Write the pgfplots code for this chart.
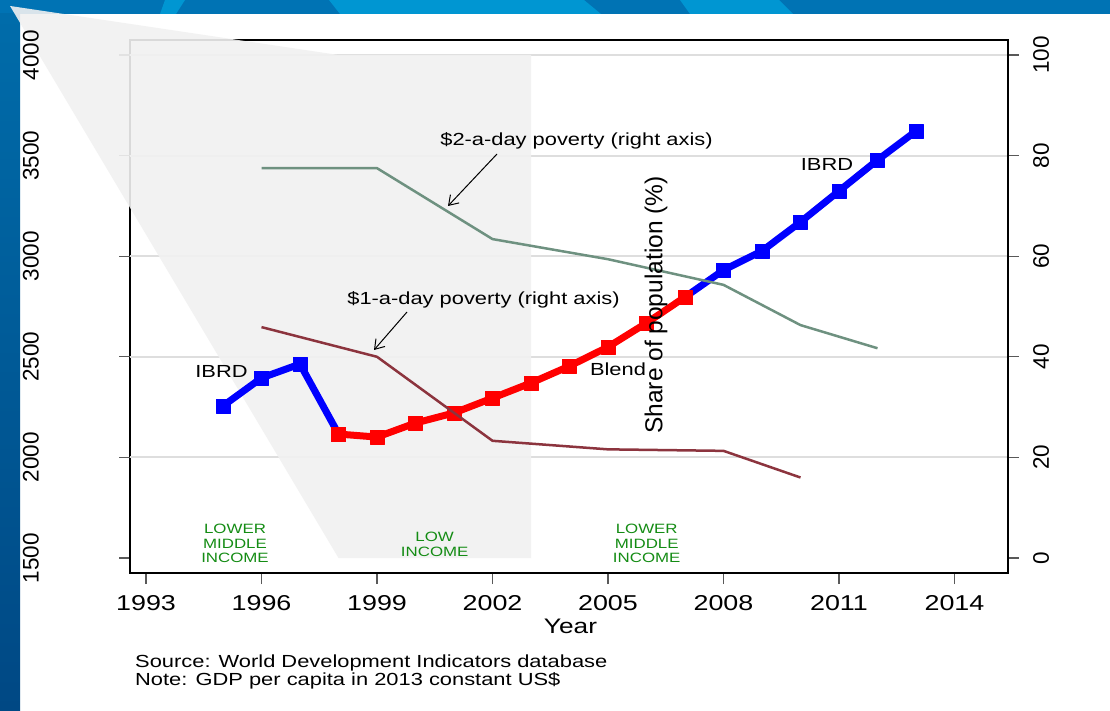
\documentclass[border=0pt]{standalone}
\usepackage{pgfplots}
\pgfplotsset{compat=1.18}
\usepackage{pgfplotstable}
\usetikzlibrary{arrows.meta}
\usepackage{fontspec}
\setmainfont{Liberation Sans}[FakeStretch=1.25]
\newfontfamily\rotfont{Liberation Sans}
\definecolor{stripdark}{RGB}{0,115,180}
\definecolor{striplight}{RGB}{0,150,210}
\definecolor{leftTop}{RGB}{0,108,170}
\definecolor{leftBot}{RGB}{0,72,132}
\definecolor{zoomgray}{RGB}{241,241,241}
\definecolor{gridgray}{RGB}{222,222,222}
\definecolor{ibrdblue}{RGB}{0,0,255}
\definecolor{blendred}{RGB}{255,0,0}
\definecolor{povtwo}{RGB}{110,145,128}
\definecolor{povone}{RGB}{140,52,62}
\definecolor{incgreen}{RGB}{20,140,20}

\pgfplotstableread{
year gdp
1995 2256
1996 2395
1997 2464
1998 2116
}\ibrdA
\pgfplotstableread{
year gdp
1998 2116
1999 2101
2000 2171
2001 2221
2002 2295
2003 2370
2004 2454
2005 2549
2006 2668
2007 2797
}\blend
\pgfplotstableread{
year gdp
2007 2797
2008 2931
2009 3026
2010 3170
2011 3324
2012 3478
2013 3622
}\ibrdB
\pgfplotstableread{
year share
1996 77.5
1999 77.5
2002 63.4
2005 59.4
2008 54.3
2010 46.3
2012 41.7
}\povTwo
\pgfplotstableread{
year share
1996 45.9
1999 40.0
2002 23.3
2005 21.6
2008 21.3
2010 16.0
}\povOne

\pgfplotsset{
  common/.style={
    at={(130pt,137pt)}, anchor=south west, scale only axis,
    width=878pt, height=533pt,
    xmin=1992.584, xmax=2015.39,
    tick align=outside, major tick length=11pt,
    /pgf/number format/1000 sep={},
    /pgf/number format/assume math mode=true,
  }
}

\begin{document}
\begin{tikzpicture}[x=1pt,y=1pt]
\useasboundingbox (0,0) rectangle (1110,710);
\fill[white] (0,0) rectangle (1110,710);
\fill[stripdark] (0,696) rectangle (1110,710);
\fill[striplight] (329,710) -- (584,710) -- (601,696) -- (340,696) -- cycle;
\fill[striplight] (680,710) -- (779,710) -- (793,696) -- (690,696) -- cycle;
\fill[striplight] (165,710) -- (185,710) -- (176,696) -- (160,696) -- cycle;
\shade[bottom color=leftBot, top color=leftTop] (0,0) rectangle (20,696);

% main axis: GDP per capita (left scale)
\begin{axis}[
  common,
  ymin=1425.45, ymax=4074.55,
  clip=false,
  xtick={1993,1996,...,2014},
  ytick={1500,2000,...,4000},
  yticklabels={},
  extra y ticks={2000,2500,3000,3500,4000},
  extra y tick labels={},
  extra y tick style={grid=major},
  grid style={gridgray, line width=2pt},
  xtick pos=bottom, ytick pos=left,
  tick style={black!65, line width=1.3pt},
  axis line style={line width=1.3pt},
  xticklabel style={font=\fontsize{21.5}{24}\selectfont, anchor=north, inner sep=0pt},
  xticklabel shift=11pt,
]
\fill[zoomgray, fill opacity=0.9] (axis cs:1989.468,4243.6) -- (axis cs:1998,4000) -- (axis cs:2003,4000) -- (axis cs:2003,1500) -- (axis cs:1998,1500) -- cycle;
\addplot[ibrdblue, line width=7pt, line join=round, mark=square*, mark size=7pt, mark options={solid, line width=0.5pt}] table[x=year,y=gdp]{\ibrdA};
\addplot[ibrdblue, line width=7pt, line join=round, mark=square*, mark size=7pt, mark options={solid, line width=0.5pt}] table[x=year,y=gdp]{\ibrdB};
\addplot[blendred, line width=7pt, line join=round, mark=square*, mark size=7pt, mark options={solid, line width=0.5pt}] table[x=year,y=gdp]{\blend};
\end{axis}

% left tick labels, drawn above the shaded zoom region
\begin{axis}[
  common,
  ymin=1425.45, ymax=4074.55,
  axis x line=none, axis y line*=left,
  y axis line style={draw=none},
  tick style={draw=none},
  ytick={1500,2000,...,4000},
  yticklabel style={font=\rotfont\fontsize{22.5}{24}\selectfont, rotate=90, anchor=south, inner sep=0pt},
  yticklabel shift=80pt,
]
\end{axis}

% right axis: share of population (%)
\begin{axis}[
  common,
  ymin=-2.982, ymax=102.98,
  axis x line=none, axis y line*=right,
  y axis line style={-, line width=1.3pt},
  ytick={0,20,...,100},
  tick style={black!65, line width=1.3pt},
  yticklabel style={font=\rotfont\fontsize{22.5}{24}\selectfont, rotate=90, anchor=north, inner sep=0pt},
  yticklabel shift=14pt,
]
\addplot[povtwo, line width=2.5pt, line join=round] table[x=year,y=share]{\povTwo};
\addplot[povone, line width=2.5pt, line join=round] table[x=year,y=share]{\povOne};
\end{axis}

\draw[-{Straight Barb[length=9pt,width=12pt]}, line width=1pt] (497,556) -- (448,504);
\draw[-{Straight Barb[length=9pt,width=12pt]}, line width=1pt] (407,398) -- (374,360);

\begin{scope}[every node/.style={inner sep=0pt, font=\fontsize{17.5}{20}\selectfont}]
\node[anchor=base] at (576.5,564) {\$2-a-day poverty (right axis)};
\node[anchor=base] at (483.5,405) {\$1-a-day poverty (right axis)};
\node[anchor=base] at (221.5,332) {IBRD};
\node[anchor=base] at (618,334) {Blend};
\node[anchor=base] at (827,539) {IBRD};
\node[anchor=base west] at (135,43) {Source: World Development Indicators database};
\node[anchor=base west] at (135,25) {Note: GDP per capita in 2013 constant US\$};
\end{scope}
\node[inner sep=0pt, anchor=base, font=\fontsize{21}{24}\selectfont] at (570.5,77) {Year};
\node[inner sep=0pt, rotate=90, font=\rotfont\fontsize{24.5}{26}\selectfont] at (656,405) {Share of population (\%)};
\begin{scope}[every node/.style={inner sep=0pt, anchor=north, align=center, text=incgreen, font=\fontsize{13.5}{14.5}\selectfont}]
\node at (235,186) {LOWER\\MIDDLE\\INCOME};
\node at (434.7,178) {LOW\\INCOME};
\node at (646.7,186) {LOWER\\MIDDLE\\INCOME};
\end{scope}
\end{tikzpicture}
\end{document}
